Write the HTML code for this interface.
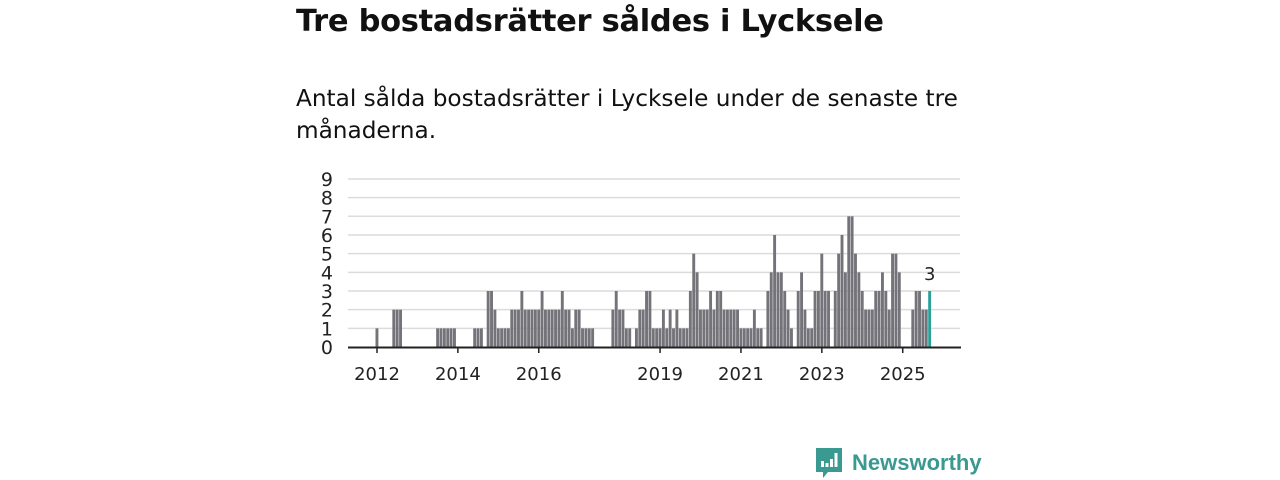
<!DOCTYPE html>
<html><head><meta charset="utf-8"><style>
body{margin:0;width:1280px;height:480px;background:#fff;font-family:"Liberation Sans","DejaVu Sans",sans-serif;color:#111;position:relative;overflow:hidden}
h1{position:absolute;left:296px;top:4px;margin:0;font-size:30.5px;font-weight:bold;font-family:"DejaVu Sans","Liberation Sans",sans-serif;letter-spacing:-0.3px}
p{position:absolute;left:296px;top:83px;margin:0;font-size:23.2px;line-height:32px;width:700px;font-family:"DejaVu Sans","Liberation Sans",sans-serif;color:#111}
svg text{font-family:"DejaVu Sans","Liberation Sans",sans-serif}
</style></head><body>
<h1>Tre bostadsrätter såldes i Lycksele</h1>
<p>Antal sålda bostadsrätter i Lycksele under de senaste tre månaderna.</p>
<svg id="chart" width="1280" height="480" style="position:absolute;left:0;top:0"></svg>
<div style="position:absolute;left:815px;top:446px;display:flex;align-items:center;color:#3a9990;font-size:22px;font-weight:bold;font-family:'Liberation Sans','DejaVu Sans',sans-serif">
<svg width="28" height="34" viewBox="0 0 28 34" style="margin-right:9px"><path d="M1 2h26v24H13l-5 6v-6H1z" fill="#3a9990"/><rect x="6" y="15" width="3" height="6" fill="#fff"/><rect x="10.5" y="17" width="3" height="4" fill="#fff"/><rect x="15" y="13" width="3" height="8" fill="#fff"/><rect x="19.5" y="7" width="3" height="14" fill="#fff"/></svg>Newsworthy</div>
<script>
const values = [1,0,0,0,0,2,2,2,0,0,0,0,0,0,0,0,0,0,1,1,1,1,1,1,0,0,0,0,0,1,1,1,0,3,3,2,1,1,1,1,2,2,2,3,2,2,2,2,2,3,2,2,2,2,2,3,2,2,1,2,2,1,1,1,1,0,0,0,0,0,2,3,2,2,1,1,0,1,2,2,3,3,1,1,1,2,1,2,1,2,1,1,1,3,5,4,2,2,2,3,2,3,3,2,2,2,2,2,1,1,1,1,2,1,1,0,3,4,6,4,4,3,2,1,0,3,4,2,1,1,3,3,5,3,3,0,3,5,6,4,7,7,5,4,3,2,2,2,3,3,4,3,2,5,5,4,0,0,0,2,3,3,2,2,3];
const yTicks = [0,1,2,3,4,5,6,7,8,9];
const xTickYears = [2012,2014,2016,2019,2021,2023,2025];
const startYear = 2012;
const svg = document.getElementById('chart');
const NS = 'http://www.w3.org/2000/svg';
const x = i => 377 + i * 3.37;
const y = v => 347 - v * 18.67;
function mk(tag, attrs){const e=document.createElementNS(NS,tag);for(const k in attrs)e.setAttribute(k,attrs[k]);svg.appendChild(e);return e;}
yTicks.forEach(t=>{
  if(t>0){const g=mk('line',{x1:348,x2:960,y1:y(t),y2:y(t),stroke:'#dcdcdc','stroke-width':1.5});
  
  }
  const tx=mk('text',{x:333,y:y(t)+7,'text-anchor':'end','font-size':19,fill:'#222'});tx.textContent=t;
  
  
});
values.forEach((v,i)=>{
  if(!v)return;
  const last=i===values.length-1;
  const r=mk('rect',{x:x(i)-1.5,y:y(v),width:2.9,height:y(0)-y(v),fill:last?'#2aa198':'#747379'});
  
  
  if(last){const t=mk('text',{x:x(i),y:y(v)-11,'text-anchor':'middle','font-size':18,fill:'#222'});t.textContent=v;
  
  }
});
const ax=mk('line',{x1:348,x2:961,y1:347.5,y2:347.5,stroke:'#222','stroke-width':2});


xTickYears.forEach(yr=>{
  const xi=x((yr-startYear)*12);
  const tk=mk('line',{x1:xi,x2:xi,y1:347,y2:353,stroke:'#222','stroke-width':1.5});
  
  
  const t=mk('text',{x:xi,y:380,'text-anchor':'middle','font-size':18,fill:'#222'});t.textContent=yr;
  
  
});
</script>
</body></html>
